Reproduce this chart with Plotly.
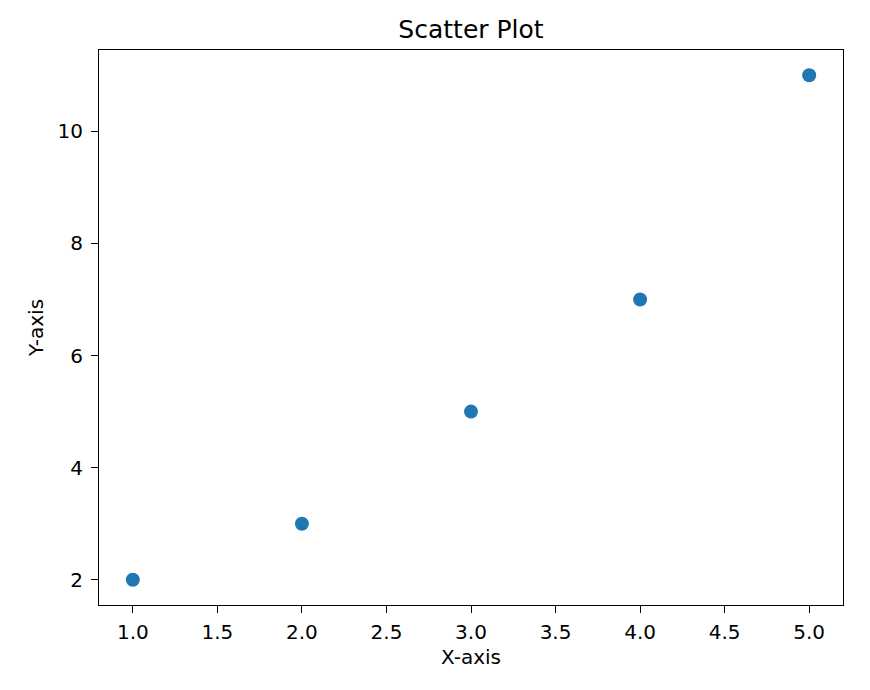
import plotly.graph_objects as go

x_vals = [1, 2, 3, 4, 5]
y_vals = [2, 3, 5, 7, 11]
x_ticks = [1.0, 1.5, 2.0, 2.5, 3.0, 3.5, 4.0, 4.5, 5.0]
x_tick_text = ["1.0", "1.5", "2.0", "2.5", "3.0", "3.5", "4.0", "4.5", "5.0"]
y_ticks = [2, 4, 6, 8, 10]

fig = go.Figure()
fig.add_trace(go.Scatter(
    x=x_vals, y=y_vals, mode="markers",
    marker=dict(color="#1f77b4", size=14, line=dict(width=0)),
))

font = "DejaVu Sans"
H = 682
fig.update_layout(
    width=862, height=H,
    margin=dict(l=91, r=27, t=42, b=85),
    paper_bgcolor="white", plot_bgcolor="white",
    showlegend=False,
    font=dict(family=font, size=20, color="black"),
    title=dict(text="Scatter Plot", x=0.5, xanchor="center", xref="paper",
               y=1 - 21 / H, yanchor="middle", yref="container",
               font=dict(family=font, size=25, color="black")),
)
axis_common = dict(
    showline=True, mirror=True, linecolor="black", linewidth=1.2,
    showgrid=False, zeroline=False,
    ticks="outside", ticklen=7, tickwidth=1.2, tickcolor="black",
    tickfont=dict(family=font, size=20, color="black"),
)
fig.update_xaxes(
    range=[0.8, 5.2], tickvals=x_ticks, ticktext=x_tick_text,
    ticklabelstandoff=2,
    title=dict(text="X-axis", standoff=6, font=dict(family=font, size=20, color="black")),
    **axis_common,
)
fig.update_yaxes(
    range=[1.55, 11.45], tickvals=y_ticks,
    ticklabelstandoff=4,
    title=dict(text="Y-axis", standoff=8, font=dict(family=font, size=20, color="black")),
    **axis_common,
)

fig.write_html("out.html")
